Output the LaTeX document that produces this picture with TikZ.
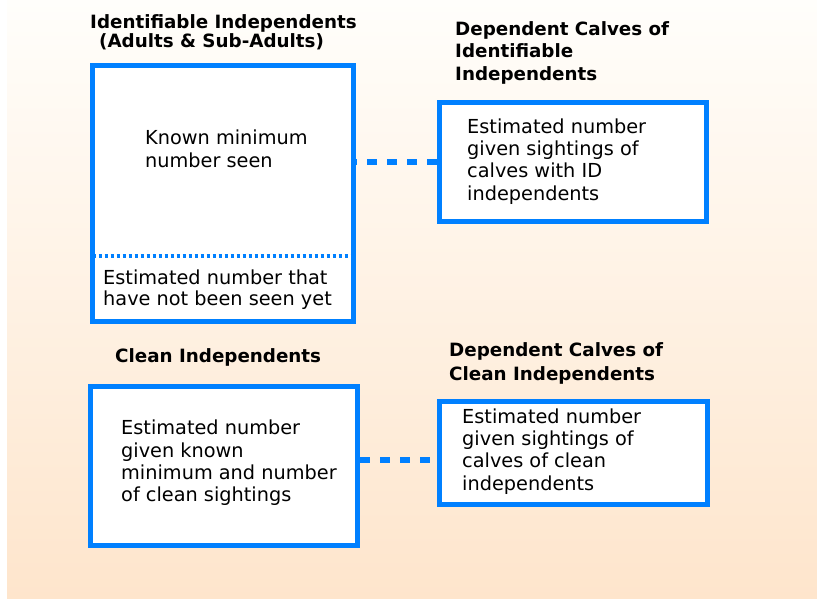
\documentclass[tikz,border=0pt]{standalone}
\usepackage{fontspec}
\setmainfont{DejaVu Sans}
\begin{document}
\begin{tikzpicture}[x=1pt,y=-1pt,
  box/.style={draw=boxblue,fill=white,line width=5pt,minimum width=#1,inner sep=0pt},
  title/.style={anchor=base west,align=left,inner sep=0pt,font=\bfseries\fontsize{18.3}{22.5}\selectfont},
  body/.style={anchor=base west,align=left,inner sep=0pt,font=\fontsize{19.3}{22.3}\selectfont},
  link/.style={draw=boxblue,line width=6pt,dash pattern=on 10pt off 10pt},
  dotline/.style={draw=boxblue,line width=4.5pt,dash pattern=on 3pt off 3pt}]
\definecolor{boxblue}{RGB}{0,128,255}
\definecolor{topbg}{RGB}{255,254,251}
\definecolor{botbg}{RGB}{254,229,204}
\useasboundingbox (0,0) rectangle (817,598);
\fill[white] (0,0) rectangle (817,598);
\shade[top color=topbg,bottom color=botbg] (7,0) rectangle (817,598);
% boxes
\node[box=261pt,minimum height=256pt] (b1) at (223,193.5) {};
\node[box=267.5pt,minimum height=118.5pt] (b2) at (572.75,161.75) {};
\node[box=267.5pt,minimum height=159pt] (b3) at (223.75,465.5) {};
\node[box=268pt,minimum height=102.5pt] (b4) at (573.5,452.75) {};
% dotted divider
\coordinate (d1) at (0,256);
\draw[dotline] ([xshift=2.5pt]b1.west |- d1) -- ([xshift=-2.5pt]b1.east |- d1);
% connectors
\draw[link] (b2.west) -- (b2.west -| b1.east);
\coordinate (c2) at (0,459.5);
\draw[link] (b3.east |- c2) -- (b4.west |- c2);
% titles (anchored at the baseline of the last line)
\node[title,font=\bfseries\fontsize{18.3}{19}\selectfont] (t1) at (90,47) {Identifiable Independents\\\hspace*{9pt}(Adults \& Sub-Adults)};
\node[title] (t2) at (455,80) {Dependent Calves of\\Identifiable\\Independents};
\node[title] (t3) at (115,362) {Clean Independents};
\node[title,font=\bfseries\fontsize{18.3}{23.3}\selectfont] (t4) at (449,380) {Dependent Calves of\\Clean Independents};
% body texts
\node[body] (x1) at (145,167) {Known minimum\\number seen};
\node[body,font=\fontsize{19.3}{21}\selectfont] (x2) at (103,305) {Estimated number that\\have not been seen yet};
\node[body] (x3) at (467,200) {Estimated number\\given sightings of\\calves with ID\\independents};
\node[body] (x4) at (121,501.7) {Estimated number\\given known\\minimum and number\\of clean sightings};
\node[body] (x5) at (462,490) {Estimated number\\given sightings of\\calves of clean\\independents};
\end{tikzpicture}
\end{document}
